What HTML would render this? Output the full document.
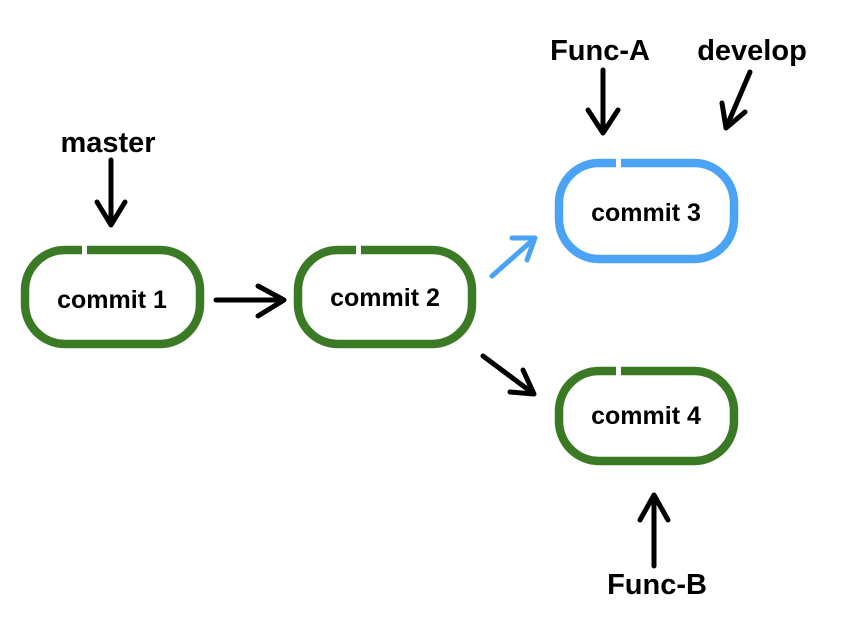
<!DOCTYPE html>
<html><head><style>
body{margin:0;background:#fff;width:854px;height:634px;overflow:hidden}
text{font-family:"Liberation Sans",sans-serif;font-weight:bold;fill:#000}
</style></head><body>
<svg width="854" height="634" viewBox="0 0 854 634">
<g fill="none" stroke-width="8.5" stroke-linecap="round">
<rect x="25" y="250" width="175" height="94" rx="40" stroke="#3b7a25"/>
<rect x="298" y="250" width="174" height="94" rx="40" stroke="#3b7a25"/>
<rect x="559" y="163" width="175" height="96" rx="40" stroke="#4aa3f5"/>
<rect x="559" y="371" width="175" height="90" rx="40" stroke="#3b7a25"/>
</g>
<g fill="#fff"><rect x="82" y="243" width="5" height="14"/><rect x="356" y="243" width="5" height="14"/><rect x="616" y="156" width="5" height="14"/><rect x="616" y="364" width="5" height="14"/></g>
<g font-size="25" text-anchor="middle">
<text x="112" y="308">commit 1</text>
<text x="385" y="306">commit 2</text>
<text x="646" y="221">commit 3</text>
<text x="646" y="424">commit 4</text>
</g>
<g font-size="29" text-anchor="middle">
<text x="108" y="152">master</text>
<text x="600" y="60">Func-A</text>
<text x="752" y="60">develop</text>
<text x="657" y="594">Func-B</text>
</g>
<g fill="none" stroke="#000" stroke-width="5" stroke-linecap="round" stroke-linejoin="round">
<path d="M111 160 L111 225 M97 202 L111 225 L125 202"/>
<path d="M603 70 L603 133 M588 110 L603 133 L618 110"/>
<path d="M750 72 L726 128 M722 103 L726 128 L745 112"/>
<path d="M216 300 L284 300 M258 286 L284 300 L258 316"/>
<path d="M483 356 L534 394 M510 392 L534 394 L523 370"/>
<path d="M654 566 L654 495 M640 520 L654 495 L668 520"/>
</g>
<path d="M492 276 L535 238 M512 238 L535 238 L527 260" fill="none" stroke="#4aa3f5" stroke-width="5" stroke-linecap="round" stroke-linejoin="round"/>
</svg>
</body></html>
